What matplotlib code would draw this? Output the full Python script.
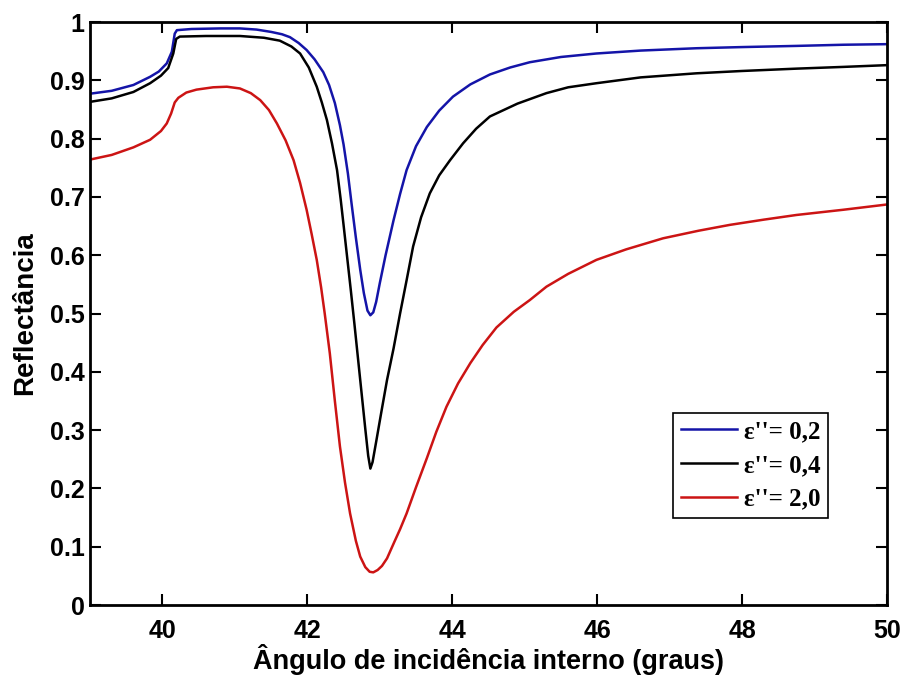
import matplotlib
matplotlib.use('Agg')
import matplotlib.pyplot as plt

# valores (angulo em graus, reflectancia)
ang_02 = [39, 39.3, 39.6, 39.83, 39.95, 40.06, 40.13, 40.17, 40.20, 40.4, 40.8, 41.07,
          41.3, 41.5, 41.65, 41.76, 41.88, 41.99, 42.10, 42.22, 42.30, 42.38, 42.45,
          42.50, 42.56, 42.61, 42.67, 42.73, 42.78, 42.83, 42.87, 42.91, 42.95, 43.0,
          43.08, 43.19, 43.28, 43.37, 43.50, 43.65, 43.82, 44.01, 44.25, 44.52, 44.8,
          45.07, 45.5, 45.99, 46.6, 47.37, 48.0, 48.75, 49.4, 50]
ref_02 = [0.877, 0.882, 0.892, 0.906, 0.915, 0.929, 0.949, 0.980, 0.986, 0.988, 0.989, 0.989,
          0.987, 0.983, 0.979, 0.974, 0.964, 0.952, 0.936, 0.914, 0.892, 0.861, 0.823,
          0.790, 0.740, 0.689, 0.630, 0.575, 0.535, 0.505, 0.497, 0.502, 0.520, 0.552,
          0.600, 0.660, 0.705, 0.746, 0.787, 0.820, 0.848, 0.872, 0.893, 0.910, 0.922,
          0.931, 0.940, 0.946, 0.951, 0.955, 0.957, 0.959, 0.961, 0.962]

ang_04 = [39, 39.3, 39.6, 39.83, 39.98, 40.08, 40.15, 40.19, 40.24, 40.6, 41.07, 41.4,
          41.62, 41.78, 41.90, 42.02, 42.13, 42.20, 42.27, 42.34, 42.41, 42.46, 42.50,
          42.55, 42.60, 42.65, 42.70, 42.75, 42.80, 42.84, 42.87, 42.90, 42.95, 43.02,
          43.10, 43.19, 43.28, 43.37, 43.46, 43.57, 43.69, 43.82, 43.97, 44.15, 44.33,
          44.52, 44.9, 45.30, 45.6, 45.99, 46.6, 47.37, 48.0, 48.75, 49.4, 50]
ref_04 = [0.863, 0.869, 0.880, 0.895, 0.908, 0.921, 0.946, 0.971, 0.975, 0.976, 0.976, 0.973,
          0.968, 0.958, 0.946, 0.922, 0.889, 0.862, 0.832, 0.792, 0.746, 0.696, 0.652,
          0.596, 0.540, 0.482, 0.422, 0.362, 0.302, 0.256, 0.234, 0.245, 0.280, 0.330,
          0.386, 0.440, 0.500, 0.557, 0.615, 0.665, 0.706, 0.737, 0.763, 0.792, 0.817,
          0.838, 0.860, 0.878, 0.888, 0.895, 0.905, 0.912, 0.916, 0.920, 0.923, 0.926]

ang_20 = [39, 39.3, 39.6, 39.83, 39.98, 40.06, 40.12, 40.17, 40.22, 40.33, 40.47, 40.7,
          40.89, 41.07, 41.22, 41.35, 41.47, 41.58, 41.70, 41.81, 41.90, 41.99, 42.06,
          42.13, 42.19, 42.24, 42.31, 42.38, 42.45, 42.52, 42.59, 42.67, 42.73, 42.80,
          42.86, 42.91, 42.97, 43.03, 43.10, 43.20, 43.28, 43.37, 43.50, 43.65, 43.78,
          43.92, 44.08, 44.25, 44.42, 44.61, 44.85, 45.07, 45.30, 45.6, 45.99, 46.4,
          46.91, 47.4, 47.83, 48.3, 48.75, 49.4, 50]
ref_20 = [0.764, 0.772, 0.785, 0.798, 0.813, 0.826, 0.843, 0.862, 0.870, 0.879, 0.884, 0.888,
          0.889, 0.886, 0.878, 0.866, 0.849, 0.826, 0.797, 0.763, 0.724, 0.678, 0.636,
          0.592, 0.545, 0.500, 0.432, 0.350, 0.272, 0.210, 0.157, 0.110, 0.083, 0.065,
          0.057, 0.056, 0.060, 0.067, 0.080, 0.108, 0.130, 0.157, 0.202, 0.252, 0.297,
          0.340, 0.380, 0.415, 0.446, 0.476, 0.503, 0.523, 0.546, 0.568, 0.592, 0.610,
          0.629, 0.642, 0.652, 0.661, 0.669, 0.678, 0.687]

legendas = ["\u03b5''= 0,2", "\u03b5''= 0,4", "\u03b5''= 2,0"]
xticks = [40, 42, 44, 46, 48, 50]
yticks = [0, 0.1, 0.2, 0.3, 0.4, 0.5, 0.6, 0.7, 0.8, 0.9, 1]
yticklabels = ['0', '0.1', '0.2', '0.3', '0.4', '0.5', '0.6', '0.7', '0.8', '0.9', '1']

plt.rcParams['font.family'] = ['Liberation Sans', 'DejaVu Sans']

fig = plt.figure(figsize=(9.05, 6.75), dpi=100)
ax = fig.add_axes([0.0994, 0.1037, 0.8807, 0.8637])

ax.plot(ang_02, ref_02, color='#1414a8', lw=1.8, label=legendas[0])
ax.plot(ang_04, ref_04, color='black', lw=1.8, label=legendas[1])
ax.plot(ang_20, ref_20, color='#cc1414', lw=1.8, label=legendas[2])

ax.set_xlim(39, 50)
ax.set_ylim(0, 1)
ax.set_xticks(xticks)
ax.set_xticklabels([str(t) for t in xticks], fontsize=18, fontweight='bold')
ax.set_yticks(yticks)
ax.set_yticklabels(yticklabels, fontsize=18, fontweight='bold')
ax.tick_params(direction='in', length=8, width=1.5, top=True, right=True)
ax.tick_params(axis='x', pad=10)
ax.tick_params(axis='y', pad=4)
for s in ax.spines.values():
    s.set_linewidth(2)

ax.set_xlabel('Ângulo de incidência interno (graus)', fontsize=19.5, fontweight='bold', labelpad=1)
ax.set_ylabel('Reflectância', fontsize=20, fontweight='bold', labelpad=8)

leg = ax.legend(loc='lower right', bbox_to_anchor=(0.926, 0.149), borderaxespad=0,
                fancybox=False, framealpha=1, edgecolor='black', handlelength=2.24,
                prop={'family': 'Liberation Serif', 'weight': 'bold', 'size': 18},
                labelspacing=0.43, handletextpad=0.28, borderpad=0.3)
leg.get_frame().set_linewidth(1.2)

fig.savefig('out.png', dpi=100)
